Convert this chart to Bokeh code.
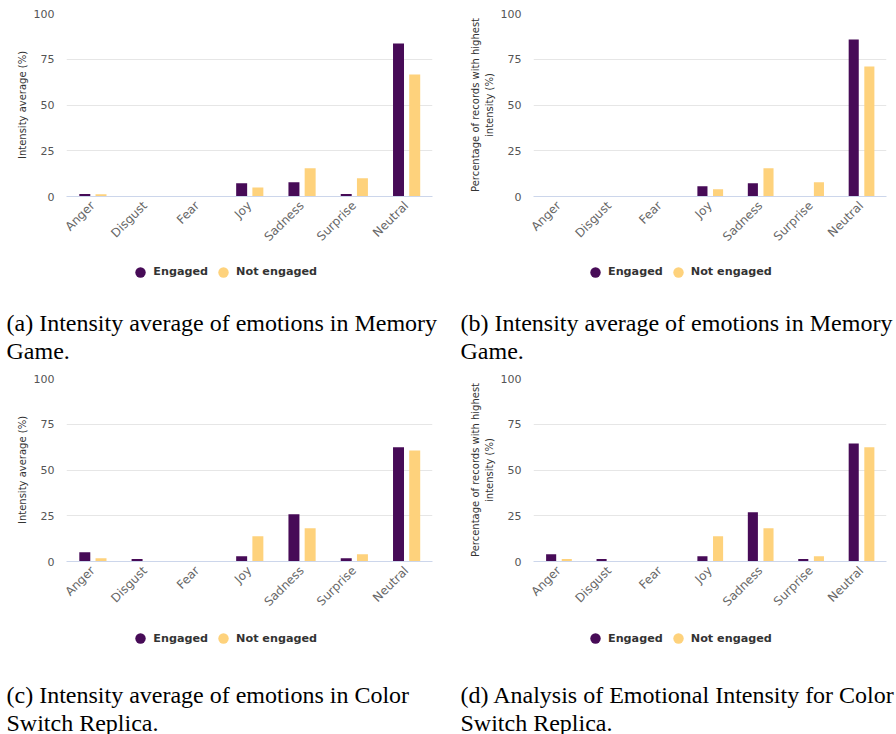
from bokeh.plotting import figure
from bokeh.models import (ColumnDataSource, Range1d, FactorRange, FixedTicker, Legend,
                          LegendItem, Label)
from bokeh.transform import dodge
from bokeh.layouts import column, row
from bokeh.embed import file_html
from bokeh.resources import INLINE
from math import pi

categories = ["Anger", "Disgust", "Fear", "Joy", "Sadness", "Surprise", "Neutral"]
series_names = ["Engaged", "Not engaged"]
y_ticks = [0, 25, 50, 75, 100]

mem_avg_engaged = [1.3, 0, 0, 7.3, 7.8, 1.3, 83.6]
mem_avg_not = [1.2, 0, 0, 4.9, 15.5, 10.0, 66.7]
mem_top_engaged = [0, 0, 0, 5.6, 7.3, 0, 85.8]
mem_top_not = [0, 0, 0, 4.0, 15.5, 7.8, 71.1]
col_avg_engaged = [5.1, 1.3, 0, 2.9, 25.8, 1.8, 62.4]
col_avg_not = [1.8, 0, 0, 13.8, 18.2, 4.0, 60.7]
col_top_engaged = [4.0, 1.3, 0, 2.9, 26.9, 1.3, 64.5]
col_top_not = [1.3, 0, 0, 13.8, 18.2, 2.9, 62.4]

label_avg = "Intensity average (%)"
label_top = "Percentage of records with highest\nintensity (%)"

captions = {
    "a": ["(a) Intensity average of emotions in Memory", "Game."],
    "b": ["(b) Intensity average of emotions in Memory", "Game."],
    "c": ["(c) Intensity average of emotions in Color", "Switch Replica."],
    "d": ["(d) Analysis of Emotional Intensity for Color", "Switch Replica."],
}

PURPLE = "#470b57"
YELLOW = "#fed27c"
SANS = "DejaVu Sans"
SERIF = "Liberation Serif"
W = 448


def make_chart(engaged, not_engaged, ylabel, left, right, top, bottom, height, bar_w):
    src = ColumnDataSource(dict(cat=categories, e=engaged, n=not_engaged))
    p = figure(x_range=FactorRange(*categories), y_range=Range1d(0, 100),
               width=W, height=height, output_backend="svg",
               toolbar_location=None, min_border_left=left, min_border_right=right,
               min_border_top=top, min_border_bottom=bottom)
    p.outline_line_color = None
    p.background_fill_color = "white"
    p.border_fill_color = "white"

    p.vbar(x=dodge("cat", -0.15, range=p.x_range), top="e", width=bar_w,
           source=src, fill_color=PURPLE, line_color=None)
    p.vbar(x=dodge("cat", 0.16, range=p.x_range), top="n", width=bar_w,
           source=src, fill_color=YELLOW, line_color=None)

    p.xgrid.grid_line_color = None
    p.ygrid.grid_line_color = "#e6e6e6"
    p.ygrid.grid_line_width = 1

    p.yaxis.ticker = FixedTicker(ticks=y_ticks)
    p.yaxis.axis_line_color = None
    p.yaxis.major_tick_line_color = None
    p.yaxis.minor_tick_line_color = None
    p.yaxis.major_tick_out = 0
    p.yaxis.major_tick_in = 0
    p.yaxis.minor_tick_out = 0
    p.yaxis.major_label_standoff = 12
    p.yaxis.major_label_text_font = SANS
    p.yaxis.major_label_text_font_size = "11px"
    p.yaxis.major_label_text_color = "#555555"
    p.yaxis.axis_label = ylabel
    p.yaxis.axis_label_text_font = SANS
    p.yaxis.axis_label_text_font_size = "10px"
    p.yaxis.axis_label_text_font_style = "normal"
    p.yaxis.axis_label_text_color = "#333333"
    p.yaxis.axis_label_standoff = 3

    p.xaxis.axis_line_color = "#ccd6eb"
    p.xaxis.major_tick_line_color = None
    p.xaxis.minor_tick_line_color = None
    p.xaxis.major_tick_out = 0
    p.xaxis.major_tick_in = 0
    p.xaxis.major_label_orientation = pi / 4
    p.xaxis.major_label_standoff = 7
    p.xaxis.major_label_text_font = SANS
    p.xaxis.major_label_text_font_size = "12px"
    p.xaxis.major_label_text_color = "#666666"
    return p


def make_caption(caption, engaged, not_engaged, height, circle_x, legend_cy,
                 cap_x, base1, base2):
    c = figure(x_range=Range1d(0, W), y_range=Range1d(height, 0), width=W,
               height=height, output_backend="svg", toolbar_location=None,
               x_axis_location=None, y_axis_location=None,
               min_border_left=0, min_border_right=0, min_border_top=0,
               min_border_bottom=0)
    c.outline_line_color = None
    c.xgrid.grid_line_color = None
    c.ygrid.grid_line_color = None
    c.background_fill_color = "white"
    c.border_fill_color = "white"

    # legend-only renderers (size 0: nothing drawn in the plot itself)
    idx = list(range(len(categories)))
    le = c.scatter(x=idx, y=engaged, size=0, marker="circle",
                   fill_color=PURPLE, line_color=None)
    ln = c.scatter(x=idx, y=not_engaged, size=0, marker="circle",
                   fill_color=YELLOW, line_color=None)
    gh = 26
    legend = Legend(items=[LegendItem(label=series_names[0], renderers=[le]),
                           LegendItem(label=series_names[1], renderers=[ln])],
                    orientation="horizontal",
                    location=(circle_x - gh / 2, height - (legend_cy - gh / 2) - gh),
                    glyph_width=gh, glyph_height=gh, label_standoff=0, spacing=2,
                    padding=0, margin=0, border_line_color=None,
                    background_fill_alpha=0,
                    label_text_font=SANS, label_text_font_style="bold",
                    label_text_font_size="11.2px", label_text_color="#333333")
    c.add_layout(legend, "center")

    for txt, yy in zip(caption, (base1, base2)):
        c.add_layout(Label(x=cap_x, y=yy, text=txt, text_font=SERIF,
                           text_font_size="24px", text_color="black",
                           text_align="left", text_baseline="alphabetic"))
    return c


CH = 256
pa = make_chart(mem_avg_engaged, mem_avg_not, label_avg, 66, 16, 13, CH - 13 - 183, CH, 0.21)
pb = make_chart(mem_top_engaged, mem_top_not, label_top, 85, 10, 13, CH - 13 - 183, CH, 0.2)
pc = make_chart(col_avg_engaged, col_avg_not, label_avg, 66, 16, 11, CH - 11 - 183, CH, 0.21)
pd = make_chart(col_top_engaged, col_top_not, label_top, 85, 10, 11, CH - 11 - 183, CH, 0.2)

ca = make_caption(captions["a"], mem_avg_engaged, mem_avg_not, 111, 140.3, 15.7, 6, 66, 94)
cb = make_caption(captions["b"], mem_top_engaged, mem_top_not, 111, 147.0, 15.7, 12, 66, 94)
cc = make_caption(captions["c"], col_avg_engaged, col_avg_not, 111, 140.3, 15.3, 6, 71, 99)
cd = make_caption(captions["d"], col_top_engaged, col_top_not, 111, 147.0, 15.3, 12, 71, 99)

layout = column(row(pa, pb), row(ca, cb), row(pc, pd), row(cc, cd))
open("out.html", "w").write(file_html(layout, INLINE))
